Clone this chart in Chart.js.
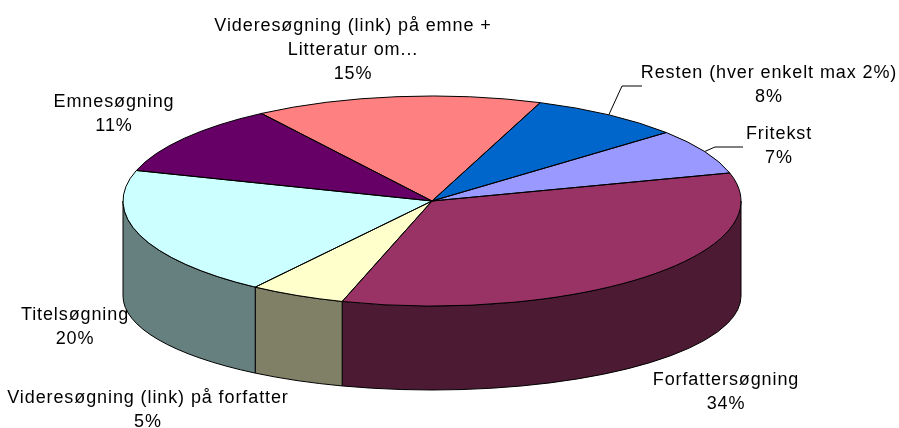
<!DOCTYPE html>
<html>
<head>
<meta charset="utf-8">
<script src="https://cdn.jsdelivr.net/npm/chart.js@4.4.0/dist/chart.umd.min.js"></script>
<style>
    html, body { margin: 0; padding: 0; background: #fff; }
</style>
</head>
<body>
<canvas id="pieChart" width="899" height="428"></canvas>
<script>
// data, in Excel's series order (clockwise from the first slice)
var categories = [
    ["Fritekst"],
    ["Forfattersøgning"],
    ["Videresøgning (link) på forfatter"],
    ["Titelsøgning"],
    ["Emnesøgning"],
    ["Videresøgning (link) på emne +", "Litteratur om..."],
    ["Resten (hver enkelt max 2%)"]
];
var values = [7, 34, 5, 20, 11, 15, 8];
var colors = ['#9999FF', '#993366', '#FFFFCC', '#CCFFFF', '#660066', '#FF8080', '#0066CC'];
var sideColors = ['#4D4D80', '#4D1A33', '#808066', '#668080', '#330033', '#804040', '#003366'];

// layout of the 3d pie
var CX = 432, CY = 201, RX = 309, RY = 105;
var BOT_CY = 296, BOT_RY = 94;

// label anchors (center x, first line y) and leader elbows
var labelPos = [[779, 134], [726, 380], [148, 398], [75, 315], [114, 102], [353, 26], [769, 73]];
var leaders = { 0: [[715, 147], [743, 147]], 6: [[622, 86], [642, 86]] };

var total = values.reduce(function(a, b) { return a + b; }, 0);

var pie3d = {
    id: 'pie3d',
    beforeDatasetsDraw: function(chart) {
        var ctx = chart.ctx;
        var arcs = chart.getDatasetMeta(0).data;
        ctx.save();
        ctx.lineWidth = 1;
        ctx.strokeStyle = '#000';
        // side walls, front half only
        arcs.forEach(function(arc, i) {
            var a0 = arc.startAngle, a1 = arc.endAngle;
            [0, 2 * Math.PI, -2 * Math.PI].forEach(function(off) {
                var s = Math.max(a0, off), e = Math.min(a1, off + Math.PI);
                if (e <= s) return;
                ctx.beginPath();
                ctx.ellipse(CX, CY, RX, RY, 0, s, e);
                ctx.ellipse(CX, BOT_CY, RX, BOT_RY, 0, e, s, true);
                ctx.closePath();
                ctx.fillStyle = sideColors[i];
                ctx.fill();
                ctx.stroke();
            });
        });
        ctx.restore();

        // squash the library's circle into the top ellipse
        var p = arcs[0].getProps(['x', 'y', 'outerRadius'], true);
        ctx.save();
        ctx.translate(CX, CY);
        ctx.scale(RX / p.outerRadius, RY / p.outerRadius);
        ctx.translate(-p.x, -p.y);
    },
    afterDatasetsDraw: function(chart) {
        var ctx = chart.ctx;
        ctx.restore();
        var arcs = chart.getDatasetMeta(0).data;
        ctx.save();
        ctx.lineWidth = 1;
        ctx.strokeStyle = '#000';
        arcs.forEach(function(arc) {
            ctx.beginPath();
            ctx.moveTo(CX, CY);
            ctx.ellipse(CX, CY, RX, RY, 0, arc.startAngle, arc.endAngle);
            ctx.closePath();
            ctx.stroke();
        });

        // labels
        ctx.fillStyle = '#000';
        ctx.font = '18px "Liberation Sans", Arial, sans-serif';
        ctx.letterSpacing = '0.9px';
        ctx.textAlign = 'center';
        ctx.textBaseline = 'middle';
        arcs.forEach(function(arc, i) {
            var lines = categories[i].concat([Math.round(values[i] / total * 100) + '%']);
            lines.forEach(function(t, j) {
                ctx.fillText(t, labelPos[i][0], labelPos[i][1] + j * 24);
            });
            if (leaders[i]) {
                var mid = (arc.startAngle + arc.endAngle) / 2;
                ctx.beginPath();
                ctx.moveTo(CX + RX * Math.cos(mid), CY + RY * Math.sin(mid));
                leaders[i].forEach(function(pt) { ctx.lineTo(pt[0], pt[1]); });
                ctx.stroke();
            }
        });
        ctx.restore();
    }
};

var chart = new Chart(document.getElementById('pieChart'), {
    type: 'pie',
    data: {
        labels: categories,
        datasets: [{
            data: values,
            backgroundColor: colors,
            borderWidth: 0,
            clip: false
        }]
    },
    options: {
        responsive: false,
        animation: false,
        rotation: 49.3,
        events: [],
        plugins: {
            legend: { display: false },
            tooltip: { enabled: false }
        }
    },
    plugins: [pie3d]
});
</script>
</body>
</html>
